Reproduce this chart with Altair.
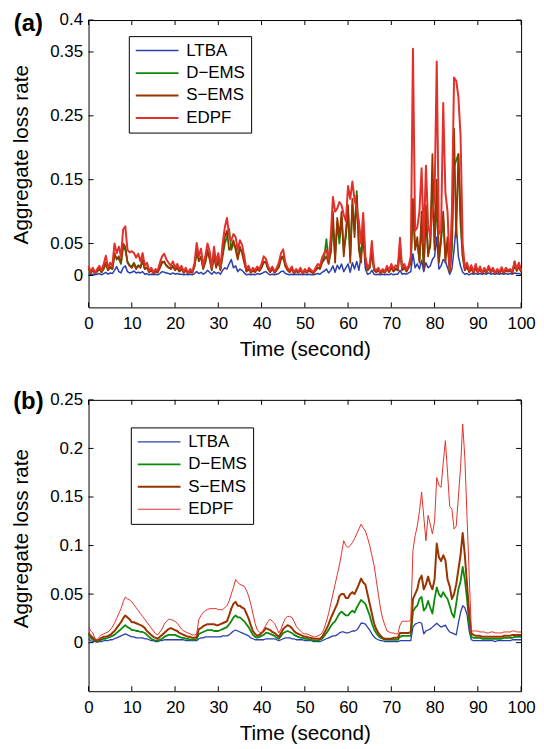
import altair as alt
import pandas as pd

# ---------------- data (0.5 s sampling) ----------------
T = [i * 0.5 for i in range(201)]
SERIES = ["LTBA", "D\u2212EMS", "S\u2212EMS", "EDPF"]
COLORS = ["#2b3fae", "#0b8a0b", "#993300", "#e3302a"]
XTICKS = [0, 10, 20, 30, 40, 50, 60, 70, 80, 90, 100]
YTICKS_A = [0, 0.05, 0.15, 0.25, 0.35, 0.4]
YTICKS_B = [0, 0.05, 0.1, 0.15, 0.2, 0.25]

# ---- panel (a) ----
EDPF_A = [
    0.015, 0.006, 0.012, 0.004, 0.010, 0.015, 0.008, 0.018, 0.031, 0.012, 0.020, 0.015, 0.050, 0.035, 0.045, 0.030, 0.072, 0.077, 0.040, 0.036,
    0.038, 0.035, 0.028, 0.034, 0.022, 0.035, 0.015, 0.020, 0.008, 0.012, 0.005, 0.010, 0.008, 0.020, 0.030, 0.034, 0.025, 0.020, 0.015, 0.022,
    0.012, 0.018, 0.010, 0.015, 0.006, 0.012, 0.004, 0.010, 0.006, 0.020, 0.051, 0.030, 0.042, 0.015, 0.030, 0.050, 0.038, 0.012, 0.045, 0.020,
    0.035, 0.012, 0.050, 0.075, 0.090, 0.062, 0.055, 0.065, 0.060, 0.040, 0.055, 0.048, 0.030, 0.010, 0.015, 0.006, 0.012, 0.008, 0.014, 0.010,
    0.018, 0.030, 0.026, 0.015, 0.008, 0.014, 0.006, 0.012, 0.020, 0.035, 0.041, 0.020, 0.012, 0.008, 0.014, 0.005, 0.010, 0.006, 0.012, 0.004,
    0.010, 0.006, 0.012, 0.008, 0.005, 0.012, 0.018, 0.015, 0.028, 0.035, 0.040, 0.025, 0.060, 0.123, 0.100, 0.105, 0.115, 0.110, 0.095, 0.085,
    0.140, 0.120, 0.147, 0.118, 0.105, 0.085, 0.050, 0.098, 0.030, 0.012, 0.018, 0.054, 0.012, 0.008, 0.012, 0.005, 0.010, 0.006, 0.015, 0.008,
    0.018, 0.010, 0.016, 0.012, 0.059, 0.012, 0.018, 0.010, 0.015, 0.030, 0.355, 0.070, 0.075, 0.100, 0.168, 0.050, 0.172, 0.080, 0.060, 0.100,
    0.120, 0.335, 0.065, 0.070, 0.270, 0.130, 0.100, 0.008, 0.100, 0.310, 0.305, 0.280, 0.220, 0.050, 0.012, 0.020, 0.008, 0.016, 0.005, 0.018,
    0.006, 0.014, 0.004, 0.012, 0.006, 0.015, 0.007, 0.012, 0.004, 0.010, 0.006, 0.013, 0.005, 0.012, 0.008, 0.010, 0.006, 0.022, 0.010, 0.020,
    0.008,
]
SEMS_A = [
    0.012, 0.004, 0.008, 0.003, 0.007, 0.010, 0.005, 0.012, 0.020, 0.008, 0.014, 0.010, 0.035, 0.025, 0.030, 0.020, 0.050, 0.045, 0.020, 0.015,
    0.012, 0.018, 0.010, 0.015, 0.012, 0.025, 0.010, 0.012, 0.005, 0.008, 0.003, 0.006, 0.005, 0.012, 0.020, 0.022, 0.015, 0.012, 0.010, 0.014,
    0.008, 0.012, 0.006, 0.010, 0.004, 0.008, 0.003, 0.006, 0.004, 0.015, 0.040, 0.022, 0.030, 0.010, 0.022, 0.040, 0.025, 0.008, 0.035, 0.012,
    0.025, 0.008, 0.035, 0.060, 0.070, 0.040, 0.045, 0.055, 0.040, 0.025, 0.045, 0.035, 0.020, 0.006, 0.010, 0.004, 0.008, 0.005, 0.010, 0.007,
    0.012, 0.022, 0.020, 0.010, 0.005, 0.010, 0.004, 0.008, 0.014, 0.028, 0.030, 0.014, 0.008, 0.005, 0.010, 0.003, 0.007, 0.004, 0.008, 0.003,
    0.007, 0.004, 0.008, 0.005, 0.003, 0.008, 0.012, 0.010, 0.020, 0.025, 0.030, 0.018, 0.040, 0.100, 0.020, 0.090, 0.060, 0.100, 0.030, 0.070,
    0.110, 0.020, 0.120, 0.060, 0.125, 0.040, 0.020, 0.085, 0.020, 0.008, 0.012, 0.040, 0.008, 0.005, 0.008, 0.003, 0.007, 0.004, 0.010, 0.005,
    0.012, 0.006, 0.010, 0.008, 0.045, 0.008, 0.012, 0.006, 0.012, 0.020, 0.120, 0.040, 0.060, 0.020, 0.100, 0.010, 0.110, 0.030, 0.050, 0.190,
    0.040, 0.150, 0.020, 0.060, 0.100, 0.020, 0.060, 0.005, 0.050, 0.230, 0.060, 0.190, 0.100, 0.030, 0.008, 0.014, 0.005, 0.011, 0.003, 0.012,
    0.004, 0.010, 0.003, 0.008, 0.004, 0.011, 0.005, 0.009, 0.003, 0.007, 0.004, 0.009, 0.003, 0.008, 0.006, 0.007, 0.004, 0.016, 0.007, 0.014,
    0.005,
]
DEMS_A = [
    0.010, 0.004, 0.009, 0.003, 0.006, 0.011, 0.005, 0.010, 0.018, 0.009, 0.012, 0.010, 0.030, 0.028, 0.026, 0.018, 0.045, 0.040, 0.022, 0.016,
    0.014, 0.020, 0.012, 0.016, 0.013, 0.022, 0.010, 0.013, 0.006, 0.009, 0.004, 0.007, 0.005, 0.013, 0.022, 0.020, 0.016, 0.013, 0.011, 0.015,
    0.009, 0.013, 0.007, 0.011, 0.005, 0.009, 0.004, 0.007, 0.005, 0.014, 0.035, 0.025, 0.028, 0.012, 0.020, 0.036, 0.028, 0.009, 0.030, 0.014,
    0.022, 0.010, 0.030, 0.050, 0.060, 0.073, 0.040, 0.050, 0.045, 0.030, 0.040, 0.038, 0.022, 0.007, 0.011, 0.005, 0.009, 0.006, 0.011, 0.008,
    0.013, 0.020, 0.022, 0.011, 0.006, 0.011, 0.005, 0.009, 0.013, 0.025, 0.028, 0.016, 0.009, 0.006, 0.011, 0.004, 0.008, 0.005, 0.009, 0.004,
    0.008, 0.005, 0.009, 0.006, 0.004, 0.009, 0.013, 0.011, 0.022, 0.030, 0.057, 0.020, 0.035, 0.080, 0.030, 0.083, 0.050, 0.090, 0.040, 0.060,
    0.100, 0.030, 0.110, 0.070, 0.132, 0.050, 0.030, 0.075, 0.025, 0.009, 0.013, 0.035, 0.009, 0.006, 0.009, 0.004, 0.008, 0.005, 0.011, 0.006,
    0.013, 0.007, 0.011, 0.009, 0.040, 0.009, 0.013, 0.007, 0.013, 0.020, 0.100, 0.045, 0.050, 0.025, 0.080, 0.015, 0.090, 0.035, 0.045, 0.150,
    0.050, 0.120, 0.025, 0.055, 0.090, 0.030, 0.050, 0.006, 0.040, 0.170, 0.180, 0.190, 0.080, 0.030, 0.009, 0.013, 0.006, 0.012, 0.004, 0.013,
    0.005, 0.011, 0.004, 0.009, 0.005, 0.012, 0.006, 0.010, 0.004, 0.008, 0.005, 0.010, 0.004, 0.009, 0.007, 0.008, 0.005, 0.022, 0.008, 0.015,
    0.006,
]
LTBA_A = [
    0.003, 0.001, 0.002, 0.001, 0.002, 0.003, 0.001, 0.003, 0.005, 0.002, 0.004, 0.003, 0.008, 0.014, 0.006, 0.004, 0.012, 0.015, 0.006, 0.004,
    0.005, 0.007, 0.004, 0.005, 0.004, 0.006, 0.002, 0.003, 0.001, 0.002, 0.001, 0.002, 0.001, 0.003, 0.006, 0.005, 0.004, 0.003, 0.002, 0.004,
    0.002, 0.003, 0.002, 0.002, 0.001, 0.002, 0.001, 0.002, 0.001, 0.003, 0.006, 0.003, 0.005, 0.002, 0.004, 0.008, 0.005, 0.002, 0.006, 0.003,
    0.005, 0.002, 0.008, 0.012, 0.010, 0.018, 0.025, 0.012, 0.015, 0.006, 0.010, 0.008, 0.004, 0.001, 0.002, 0.001, 0.002, 0.001, 0.003, 0.002,
    0.003, 0.005, 0.006, 0.003, 0.001, 0.002, 0.001, 0.002, 0.003, 0.006, 0.007, 0.003, 0.002, 0.001, 0.002, 0.001, 0.002, 0.001, 0.002, 0.001,
    0.002, 0.001, 0.002, 0.001, 0.001, 0.002, 0.003, 0.002, 0.005, 0.007, 0.010, 0.004, 0.008, 0.015, 0.005, 0.016, 0.010, 0.018, 0.006, 0.012,
    0.018, 0.005, 0.020, 0.010, 0.022, 0.008, 0.030, 0.058, 0.010, 0.002, 0.003, 0.008, 0.002, 0.001, 0.002, 0.001, 0.002, 0.001, 0.002, 0.001,
    0.003, 0.001, 0.002, 0.002, 0.008, 0.002, 0.003, 0.002, 0.004, 0.006, 0.034, 0.012, 0.018, 0.010, 0.024, 0.006, 0.020, 0.012, 0.015, 0.025,
    0.030, 0.060, 0.010, 0.015, 0.025, 0.022, 0.012, 0.002, 0.010, 0.040, 0.080, 0.030, 0.015, 0.005, 0.002, 0.003, 0.001, 0.003, 0.002, 0.003,
    0.002, 0.003, 0.002, 0.003, 0.002, 0.004, 0.002, 0.003, 0.002, 0.003, 0.002, 0.003, 0.002, 0.003, 0.002, 0.003, 0.002, 0.004, 0.003, 0.003,
    0.002,
]

# ---- panel (b) ----
EDPF_B = [
    0.016, 0.012, 0.010, 0.004, 0.003, 0.006, 0.008, 0.009, 0.010, 0.011, 0.013, 0.016, 0.020, 0.025, 0.030, 0.035, 0.042, 0.047, 0.045, 0.044,
    0.042, 0.039, 0.036, 0.033, 0.030, 0.027, 0.024, 0.021, 0.018, 0.015, 0.012, 0.009, 0.008, 0.011, 0.014, 0.019, 0.022, 0.024, 0.024, 0.023,
    0.022, 0.020, 0.017, 0.014, 0.012, 0.011, 0.010, 0.009, 0.008, 0.008, 0.009, 0.024, 0.028, 0.031, 0.033, 0.034, 0.035, 0.035, 0.035, 0.035,
    0.034, 0.034, 0.034, 0.036, 0.038, 0.043, 0.050, 0.057, 0.065, 0.062, 0.060, 0.059, 0.058, 0.054, 0.048, 0.040, 0.030, 0.020, 0.013, 0.011,
    0.010, 0.014, 0.018, 0.022, 0.024, 0.022, 0.020, 0.015, 0.010, 0.014, 0.020, 0.025, 0.027, 0.027, 0.026, 0.022, 0.017, 0.014, 0.012, 0.010,
    0.009, 0.009, 0.008, 0.007, 0.006, 0.006, 0.007, 0.008, 0.010, 0.015, 0.022, 0.030, 0.040, 0.050, 0.060, 0.070, 0.080, 0.092, 0.105, 0.100,
    0.098, 0.100, 0.103, 0.107, 0.112, 0.117, 0.122, 0.118, 0.115, 0.108, 0.100, 0.090, 0.080, 0.065, 0.050, 0.035, 0.025, 0.018, 0.012, 0.011,
    0.010, 0.010, 0.009, 0.009, 0.018, 0.022, 0.022, 0.022, 0.022, 0.023, 0.095, 0.110, 0.120, 0.135, 0.155, 0.130, 0.105, 0.131, 0.122, 0.112,
    0.125, 0.170, 0.162, 0.160, 0.185, 0.208, 0.175, 0.140, 0.138, 0.117, 0.120, 0.150, 0.180, 0.225, 0.190, 0.130, 0.070, 0.012, 0.012, 0.012,
    0.012, 0.011, 0.011, 0.011, 0.010, 0.010, 0.011, 0.011, 0.010, 0.010, 0.010, 0.010, 0.011, 0.011, 0.011, 0.011, 0.012, 0.012, 0.011, 0.011,
    0.011,
]
SEMS_B = [
    0.010, 0.007, 0.005, 0.003, 0.002, 0.003, 0.005, 0.006, 0.006, 0.007, 0.008, 0.010, 0.012, 0.015, 0.018, 0.021, 0.025, 0.028, 0.026, 0.024,
    0.021, 0.021, 0.020, 0.019, 0.018, 0.017, 0.015, 0.012, 0.010, 0.008, 0.006, 0.005, 0.004, 0.006, 0.008, 0.010, 0.012, 0.014, 0.015, 0.014,
    0.013, 0.012, 0.010, 0.009, 0.008, 0.007, 0.006, 0.006, 0.005, 0.005, 0.006, 0.014, 0.015, 0.017, 0.018, 0.019, 0.019, 0.019, 0.019, 0.018,
    0.018, 0.019, 0.020, 0.021, 0.022, 0.028, 0.035, 0.040, 0.042, 0.038, 0.038, 0.036, 0.035, 0.030, 0.025, 0.018, 0.012, 0.009, 0.007, 0.008,
    0.010, 0.012, 0.015, 0.014, 0.013, 0.011, 0.010, 0.008, 0.006, 0.010, 0.014, 0.016, 0.018, 0.017, 0.015, 0.012, 0.010, 0.009, 0.008, 0.007,
    0.006, 0.006, 0.005, 0.005, 0.004, 0.004, 0.004, 0.004, 0.006, 0.010, 0.014, 0.019, 0.025, 0.030, 0.035, 0.040, 0.048, 0.050, 0.050, 0.046,
    0.046, 0.050, 0.052, 0.050, 0.055, 0.060, 0.066, 0.062, 0.060, 0.050, 0.040, 0.030, 0.020, 0.014, 0.010, 0.007, 0.005, 0.004, 0.004, 0.004,
    0.004, 0.005, 0.005, 0.005, 0.010, 0.010, 0.010, 0.010, 0.010, 0.011, 0.045, 0.050, 0.055, 0.065, 0.069, 0.055, 0.060, 0.068, 0.060, 0.055,
    0.065, 0.102, 0.088, 0.084, 0.090, 0.085, 0.065, 0.058, 0.045, 0.050, 0.060, 0.075, 0.090, 0.113, 0.090, 0.060, 0.030, 0.010, 0.008, 0.007,
    0.007, 0.007, 0.006, 0.006, 0.006, 0.006, 0.006, 0.006, 0.006, 0.006, 0.006, 0.006, 0.007, 0.007, 0.007, 0.007, 0.008, 0.008, 0.008, 0.008,
    0.008,
]
DEMS_B = [
    0.008, 0.005, 0.003, 0.002, 0.001, 0.002, 0.003, 0.004, 0.004, 0.005, 0.006, 0.007, 0.008, 0.010, 0.012, 0.014, 0.016, 0.018, 0.016, 0.015,
    0.013, 0.013, 0.012, 0.012, 0.011, 0.011, 0.010, 0.008, 0.006, 0.004, 0.003, 0.002, 0.002, 0.003, 0.004, 0.006, 0.007, 0.008, 0.008, 0.008,
    0.008, 0.007, 0.006, 0.005, 0.005, 0.004, 0.004, 0.003, 0.003, 0.003, 0.004, 0.009, 0.010, 0.011, 0.012, 0.013, 0.013, 0.013, 0.012, 0.012,
    0.012, 0.013, 0.014, 0.015, 0.016, 0.019, 0.022, 0.026, 0.028, 0.026, 0.026, 0.024, 0.022, 0.019, 0.016, 0.012, 0.008, 0.006, 0.005, 0.006,
    0.007, 0.008, 0.010, 0.010, 0.009, 0.008, 0.007, 0.005, 0.004, 0.007, 0.010, 0.011, 0.012, 0.011, 0.010, 0.008, 0.007, 0.006, 0.005, 0.005,
    0.004, 0.004, 0.003, 0.003, 0.002, 0.002, 0.002, 0.003, 0.004, 0.007, 0.010, 0.013, 0.017, 0.020, 0.022, 0.026, 0.030, 0.032, 0.030, 0.028,
    0.028, 0.031, 0.033, 0.031, 0.036, 0.040, 0.044, 0.042, 0.040, 0.034, 0.028, 0.020, 0.014, 0.010, 0.007, 0.005, 0.004, 0.003, 0.003, 0.003,
    0.003, 0.003, 0.003, 0.003, 0.006, 0.007, 0.007, 0.007, 0.007, 0.007, 0.032, 0.036, 0.038, 0.045, 0.047, 0.033, 0.036, 0.043, 0.036, 0.030,
    0.045, 0.057, 0.050, 0.047, 0.052, 0.048, 0.045, 0.038, 0.030, 0.026, 0.040, 0.055, 0.063, 0.078, 0.065, 0.045, 0.020, 0.006, 0.005, 0.005,
    0.005, 0.005, 0.004, 0.004, 0.004, 0.004, 0.004, 0.004, 0.004, 0.004, 0.004, 0.004, 0.005, 0.005, 0.005, 0.005, 0.005, 0.006, 0.006, 0.006,
    0.006,
]
LTBA_B = [
    0.004, 0.002, 0.001, 0.001, 0.0005, 0.001, 0.001, 0.002, 0.002, 0.002, 0.003, 0.003, 0.004, 0.005, 0.006, 0.007, 0.008, 0.009, 0.008, 0.007,
    0.006, 0.006, 0.005, 0.005, 0.005, 0.005, 0.004, 0.004, 0.003, 0.002, 0.002, 0.001, 0.001, 0.002, 0.002, 0.003, 0.003, 0.003, 0.003, 0.003,
    0.003, 0.003, 0.003, 0.003, 0.003, 0.002, 0.002, 0.002, 0.002, 0.002, 0.002, 0.004, 0.005, 0.005, 0.006, 0.006, 0.006, 0.006, 0.006, 0.006,
    0.006, 0.006, 0.007, 0.007, 0.007, 0.008, 0.010, 0.012, 0.013, 0.012, 0.011, 0.010, 0.009, 0.008, 0.007, 0.005, 0.004, 0.003, 0.003, 0.003,
    0.003, 0.003, 0.004, 0.004, 0.004, 0.004, 0.004, 0.003, 0.002, 0.003, 0.004, 0.005, 0.005, 0.005, 0.004, 0.004, 0.003, 0.003, 0.003, 0.003,
    0.002, 0.002, 0.002, 0.002, 0.001, 0.001, 0.001, 0.001, 0.002, 0.003, 0.004, 0.005, 0.006, 0.007, 0.007, 0.008, 0.010, 0.011, 0.011, 0.010,
    0.010, 0.011, 0.012, 0.012, 0.013, 0.016, 0.020, 0.020, 0.019, 0.016, 0.013, 0.009, 0.006, 0.004, 0.003, 0.002, 0.002, 0.001, 0.001, 0.001,
    0.001, 0.001, 0.001, 0.001, 0.002, 0.002, 0.002, 0.002, 0.002, 0.002, 0.016, 0.019, 0.020, 0.021, 0.020, 0.009, 0.012, 0.013, 0.014, 0.016,
    0.018, 0.020, 0.018, 0.016, 0.017, 0.018, 0.014, 0.011, 0.010, 0.009, 0.008, 0.020, 0.031, 0.038, 0.036, 0.029, 0.012, 0.003, 0.002, 0.002,
    0.002, 0.002, 0.002, 0.002, 0.002, 0.002, 0.002, 0.002, 0.001, 0.002, 0.002, 0.002, 0.002, 0.002, 0.002, 0.002, 0.003, 0.003, 0.003, 0.003,
    0.003,
]

FONT = "Liberation Sans"
W = 435


def long_df(cols):
    rows = []
    for name, vals in zip(SERIES, cols):
        assert len(vals) == len(T), (name, len(vals))
        for t, v in zip(T, vals):
            rows.append({"t": t, "v": v, "series": name})
    return pd.DataFrame(rows)


def panel(cols, ydom, yticks, tag, tag_y, widths, leg_x, leg_y, H, title_y):
    df = long_df(cols)
    legend = alt.Legend(
        orient="none", legendX=leg_x, legendY=leg_y, title=None,
        symbolType="stroke", symbolSize=1849, clipHeight=17,
        labelFont=FONT, labelFontSize=17, labelColor="black", labelOffset=6.7,
        fillColor="white", strokeColor="black", padding=6, rowPadding=4.6, labelLimit=0,
    )
    xscale = alt.Scale(domain=[0, 100], nice=False)
    yscale = alt.Scale(domain=ydom, nice=False, zero=False)
    xaxis = alt.Axis(
        values=XTICKS, title="Time (second)", labelFlush=False, ticks=False,
        tickSize=0, domain=False, grid=False, labelPadding=8.5, titlePadding=8,
        labelFontSize=17, titleFontSize=20.8, labelFont=FONT, titleFont=FONT,
        labelColor="black", titleColor="black", titleFontWeight="normal")
    yaxis = alt.Axis(
        values=yticks, labelExpr="format(datum.value, '.2~f')", title="Aggregate loss rate",
        labelFlush=False, ticks=False, tickSize=0, domain=False, grid=False, labelPadding=6,
        labelFontSize=17, titleFontSize=20.8, labelFont=FONT, titleFont=FONT,
        labelColor="black", titleColor="black", titleFontWeight="normal",
        titleAngle=270, titleX=-67.5, titleY=title_y, titleBaseline="middle")
    lines = alt.Chart(df).mark_line(strokeJoin="round").encode(
        x=alt.X("t:Q", scale=xscale, axis=xaxis),
        y=alt.Y("v:Q", scale=yscale, axis=yaxis),
        color=alt.Color("series:N", scale=alt.Scale(domain=SERIES, range=COLORS), legend=legend),
        strokeWidth=alt.StrokeWidth("series:N", scale=alt.Scale(type="ordinal", domain=SERIES, range=widths),
                                    legend=legend),
    )
    xt = pd.DataFrame({"t": XTICKS})
    yt = pd.DataFrame({"v": yticks})
    tick_style = dict(color="black", strokeWidth=1)
    xb = alt.Chart(xt).mark_rule(**tick_style).encode(
        x=alt.X("t:Q", scale=xscale, axis=xaxis), y=alt.value(H), y2=alt.value(H - 5))
    xtop = alt.Chart(xt).mark_rule(**tick_style).encode(
        x=alt.X("t:Q", scale=xscale, axis=xaxis), y=alt.value(0), y2=alt.value(5))
    yl = alt.Chart(yt).mark_rule(**tick_style).encode(
        y=alt.Y("v:Q", scale=yscale, axis=yaxis), x=alt.value(0), x2=alt.value(5))
    yr = alt.Chart(yt).mark_rule(**tick_style).encode(
        y=alt.Y("v:Q", scale=yscale, axis=yaxis), x=alt.value(W - 5), x2=alt.value(W))
    lab = alt.Chart(pd.DataFrame({"lab": [tag]})).mark_text(
        font=FONT, fontSize=24, fontWeight="bold", color="black", align="center", baseline="middle"
    ).encode(text="lab:N", x=alt.value(-60.5), y=alt.value(tag_y))
    return alt.layer(lines, xb, xtop, yl, yr, lab).properties(width=W, height=H)


pa = panel([LTBA_A, DEMS_A, SEMS_A, EDPF_A], [-0.05, 0.4], YTICKS_A, "(a)", 4.5,
           [1.5, 1.8, 1.8, 2.0], 40.5, 16.2, 289, 135)
pb = panel([LTBA_B, DEMS_B, SEMS_B, EDPF_B], [-0.05, 0.25], YTICKS_B, "(b)", 2.4,
           [1.3, 1.8, 2.0, 1.0], 42.5, 27.7, 293, 139)

chart = (
    alt.vconcat(pa, pb, spacing=29)
    .resolve_scale(color="independent", strokeWidth="independent")
    .resolve_legend(color="independent", strokeWidth="independent")
    .properties(padding={"left": 2, "top": 0, "right": 0, "bottom": 0})
    .configure(font=FONT)
    .configure_view(stroke="black", strokeWidth=1)
)

chart.save("out.html", embed_options={"renderer": "svg", "actions": False})
